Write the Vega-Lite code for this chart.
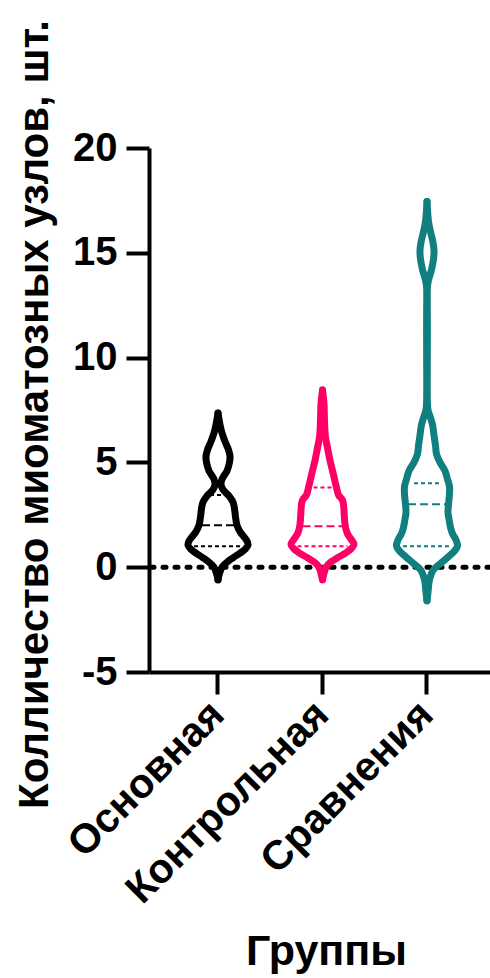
{
  "$schema": "https://vega.github.io/schema/vega-lite/v6.json",
  "width": 341,
  "height": 524,
  "autosize": {"type": "none"},
  "padding": {"left": 149, "top": 148, "right": 0, "bottom": 306},
  "background": "white",
  "config": {"view": {"stroke": null}, "font": "Liberation Sans"},
  "datasets": {
    "outline": [
      {"g":"Основная","s":"L","v":-0.6,"w":0},{"g":"Основная","s":"L","v":-0.3,"w":-1.5},{"g":"Основная","s":"L","v":0.0,"w":-4},{"g":"Основная","s":"L","v":0.2,"w":-8},{"g":"Основная","s":"L","v":0.45,"w":-15},{"g":"Основная","s":"L","v":0.67,"w":-22},{"g":"Основная","s":"L","v":0.85,"w":-27},{"g":"Основная","s":"L","v":1.05,"w":-30},{"g":"Основная","s":"L","v":1.25,"w":-29},{"g":"Основная","s":"L","v":1.45,"w":-26},{"g":"Основная","s":"L","v":1.7,"w":-22},{"g":"Основная","s":"L","v":2.0,"w":-19},{"g":"Основная","s":"L","v":2.4,"w":-17.5},{"g":"Основная","s":"L","v":2.8,"w":-16.5},{"g":"Основная","s":"L","v":3.1,"w":-15},{"g":"Основная","s":"L","v":3.4,"w":-11},{"g":"Основная","s":"L","v":3.7,"w":-5},{"g":"Основная","s":"L","v":3.95,"w":-3},{"g":"Основная","s":"L","v":4.2,"w":-4},{"g":"Основная","s":"L","v":4.6,"w":-9},{"g":"Основная","s":"L","v":5.0,"w":-11.5},{"g":"Основная","s":"L","v":5.3,"w":-12},{"g":"Основная","s":"L","v":5.6,"w":-10.5},{"g":"Основная","s":"L","v":6.0,"w":-7},{"g":"Основная","s":"L","v":6.4,"w":-4},{"g":"Основная","s":"L","v":6.8,"w":-2},{"g":"Основная","s":"L","v":7.35,"w":0},
      {"g":"Основная","s":"R","v":-0.6,"w":0},{"g":"Основная","s":"R","v":-0.3,"w":1.5},{"g":"Основная","s":"R","v":0.0,"w":4},{"g":"Основная","s":"R","v":0.2,"w":8},{"g":"Основная","s":"R","v":0.45,"w":15},{"g":"Основная","s":"R","v":0.67,"w":22},{"g":"Основная","s":"R","v":0.85,"w":27},{"g":"Основная","s":"R","v":1.05,"w":30},{"g":"Основная","s":"R","v":1.25,"w":29},{"g":"Основная","s":"R","v":1.45,"w":26},{"g":"Основная","s":"R","v":1.7,"w":22},{"g":"Основная","s":"R","v":2.0,"w":19},{"g":"Основная","s":"R","v":2.4,"w":17.5},{"g":"Основная","s":"R","v":2.8,"w":16.5},{"g":"Основная","s":"R","v":3.1,"w":15},{"g":"Основная","s":"R","v":3.4,"w":11},{"g":"Основная","s":"R","v":3.7,"w":5},{"g":"Основная","s":"R","v":3.95,"w":3},{"g":"Основная","s":"R","v":4.2,"w":4},{"g":"Основная","s":"R","v":4.6,"w":9},{"g":"Основная","s":"R","v":5.0,"w":11.5},{"g":"Основная","s":"R","v":5.3,"w":12},{"g":"Основная","s":"R","v":5.6,"w":10.5},{"g":"Основная","s":"R","v":6.0,"w":7},{"g":"Основная","s":"R","v":6.4,"w":4},{"g":"Основная","s":"R","v":6.8,"w":2},{"g":"Основная","s":"R","v":7.35,"w":0},
      {"g":"Контрольная","s":"L","v":-0.6,"w":0},{"g":"Контрольная","s":"L","v":-0.3,"w":-1.5},{"g":"Контрольная","s":"L","v":0.0,"w":-3.5},{"g":"Контрольная","s":"L","v":0.2,"w":-7},{"g":"Контрольная","s":"L","v":0.45,"w":-15},{"g":"Контрольная","s":"L","v":0.67,"w":-23},{"g":"Контрольная","s":"L","v":0.9,"w":-29},{"g":"Контрольная","s":"L","v":1.1,"w":-31.5},{"g":"Контрольная","s":"L","v":1.3,"w":-29},{"g":"Контрольная","s":"L","v":1.6,"w":-25},{"g":"Контрольная","s":"L","v":1.9,"w":-23},{"g":"Контрольная","s":"L","v":2.3,"w":-22},{"g":"Контрольная","s":"L","v":2.7,"w":-21.5},{"g":"Контрольная","s":"L","v":3.0,"w":-21},{"g":"Контрольная","s":"L","v":3.2,"w":-20},{"g":"Контрольная","s":"L","v":3.45,"w":-16},{"g":"Контрольная","s":"L","v":3.8,"w":-14},{"g":"Контрольная","s":"L","v":4.2,"w":-12},{"g":"Контрольная","s":"L","v":4.6,"w":-10},{"g":"Контрольная","s":"L","v":5.2,"w":-7},{"g":"Контрольная","s":"L","v":5.7,"w":-5},{"g":"Контрольная","s":"L","v":6.2,"w":-3},{"g":"Контрольная","s":"L","v":7.0,"w":-2},{"g":"Контрольная","s":"L","v":7.8,"w":-1.5},{"g":"Контрольная","s":"L","v":8.45,"w":0},
      {"g":"Контрольная","s":"R","v":-0.6,"w":0},{"g":"Контрольная","s":"R","v":-0.3,"w":1.5},{"g":"Контрольная","s":"R","v":0.0,"w":3.5},{"g":"Контрольная","s":"R","v":0.2,"w":7},{"g":"Контрольная","s":"R","v":0.45,"w":15},{"g":"Контрольная","s":"R","v":0.67,"w":23},{"g":"Контрольная","s":"R","v":0.9,"w":29},{"g":"Контрольная","s":"R","v":1.1,"w":31.5},{"g":"Контрольная","s":"R","v":1.3,"w":29},{"g":"Контрольная","s":"R","v":1.6,"w":25},{"g":"Контрольная","s":"R","v":1.9,"w":23},{"g":"Контрольная","s":"R","v":2.3,"w":22},{"g":"Контрольная","s":"R","v":2.7,"w":21.5},{"g":"Контрольная","s":"R","v":3.0,"w":21},{"g":"Контрольная","s":"R","v":3.2,"w":20},{"g":"Контрольная","s":"R","v":3.45,"w":16},{"g":"Контрольная","s":"R","v":3.8,"w":14},{"g":"Контрольная","s":"R","v":4.2,"w":12},{"g":"Контрольная","s":"R","v":4.6,"w":10},{"g":"Контрольная","s":"R","v":5.2,"w":7},{"g":"Контрольная","s":"R","v":5.7,"w":5},{"g":"Контрольная","s":"R","v":6.2,"w":3},{"g":"Контрольная","s":"R","v":7.0,"w":2},{"g":"Контрольная","s":"R","v":7.8,"w":1.5},{"g":"Контрольная","s":"R","v":8.45,"w":0},
      {"g":"Сравнения","s":"L","v":-1.6,"w":0},{"g":"Сравнения","s":"L","v":-1.2,"w":-1},{"g":"Сравнения","s":"L","v":-0.6,"w":-2.5},{"g":"Сравнения","s":"L","v":-0.15,"w":-6},{"g":"Сравнения","s":"L","v":0.2,"w":-14},{"g":"Сравнения","s":"L","v":0.5,"w":-21.5},{"g":"Сравнения","s":"L","v":0.75,"w":-27},{"g":"Сравнения","s":"L","v":1.0,"w":-30.5},{"g":"Сравнения","s":"L","v":1.3,"w":-29},{"g":"Сравнения","s":"L","v":1.6,"w":-25.5},{"g":"Сравнения","s":"L","v":1.9,"w":-23.5},{"g":"Сравнения","s":"L","v":2.3,"w":-22},{"g":"Сравнения","s":"L","v":2.6,"w":-21},{"g":"Сравнения","s":"L","v":3.0,"w":-21.5},{"g":"Сравнения","s":"L","v":3.5,"w":-22.5},{"g":"Сравнения","s":"L","v":3.85,"w":-22.5},{"g":"Сравнения","s":"L","v":4.2,"w":-20.5},{"g":"Сравнения","s":"L","v":4.6,"w":-18},{"g":"Сравнения","s":"L","v":5.0,"w":-13},{"g":"Сравнения","s":"L","v":5.4,"w":-9.5},{"g":"Сравнения","s":"L","v":5.8,"w":-8.5},{"g":"Сравнения","s":"L","v":6.3,"w":-7},{"g":"Сравнения","s":"L","v":6.8,"w":-5.5},{"g":"Сравнения","s":"L","v":7.2,"w":-3},{"g":"Сравнения","s":"L","v":7.5,"w":-1},{"g":"Сравнения","s":"L","v":8.0,"w":-0.3},{"g":"Сравнения","s":"L","v":13.3,"w":-0.3},{"g":"Сравнения","s":"L","v":13.7,"w":-1.5},{"g":"Сравнения","s":"L","v":14.2,"w":-4.5},{"g":"Сравнения","s":"L","v":14.7,"w":-6.5},{"g":"Сравнения","s":"L","v":15.1,"w":-7},{"g":"Сравнения","s":"L","v":15.5,"w":-6},{"g":"Сравнения","s":"L","v":16.0,"w":-3.5},{"g":"Сравнения","s":"L","v":16.5,"w":-1.5},{"g":"Сравнения","s":"L","v":17.45,"w":0},
      {"g":"Сравнения","s":"R","v":-1.6,"w":0},{"g":"Сравнения","s":"R","v":-1.2,"w":1},{"g":"Сравнения","s":"R","v":-0.6,"w":2.5},{"g":"Сравнения","s":"R","v":-0.15,"w":6},{"g":"Сравнения","s":"R","v":0.2,"w":14},{"g":"Сравнения","s":"R","v":0.5,"w":21.5},{"g":"Сравнения","s":"R","v":0.75,"w":27},{"g":"Сравнения","s":"R","v":1.0,"w":30.5},{"g":"Сравнения","s":"R","v":1.3,"w":29},{"g":"Сравнения","s":"R","v":1.6,"w":25.5},{"g":"Сравнения","s":"R","v":1.9,"w":23.5},{"g":"Сравнения","s":"R","v":2.3,"w":22},{"g":"Сравнения","s":"R","v":2.6,"w":21},{"g":"Сравнения","s":"R","v":3.0,"w":21.5},{"g":"Сравнения","s":"R","v":3.5,"w":22.5},{"g":"Сравнения","s":"R","v":3.85,"w":22.5},{"g":"Сравнения","s":"R","v":4.2,"w":20.5},{"g":"Сравнения","s":"R","v":4.6,"w":18},{"g":"Сравнения","s":"R","v":5.0,"w":13},{"g":"Сравнения","s":"R","v":5.4,"w":9.5},{"g":"Сравнения","s":"R","v":5.8,"w":8.5},{"g":"Сравнения","s":"R","v":6.3,"w":7},{"g":"Сравнения","s":"R","v":6.8,"w":5.5},{"g":"Сравнения","s":"R","v":7.2,"w":3},{"g":"Сравнения","s":"R","v":7.5,"w":1},{"g":"Сравнения","s":"R","v":8.0,"w":0.3},{"g":"Сравнения","s":"R","v":13.3,"w":0.3},{"g":"Сравнения","s":"R","v":13.7,"w":1.5},{"g":"Сравнения","s":"R","v":14.2,"w":4.5},{"g":"Сравнения","s":"R","v":14.7,"w":6.5},{"g":"Сравнения","s":"R","v":15.1,"w":7},{"g":"Сравнения","s":"R","v":15.5,"w":6},{"g":"Сравнения","s":"R","v":16.0,"w":3.5},{"g":"Сравнения","s":"R","v":16.5,"w":1.5},{"g":"Сравнения","s":"R","v":17.45,"w":0}
    ],
    "quart": [
      {"g":"Основная","q":"Q1","k":"quartile","v":1.0,"w":-24},{"g":"Основная","q":"Q1","k":"quartile","v":1.0,"w":24},
      {"g":"Основная","q":"Me","k":"median","v":2.0,"w":-16},{"g":"Основная","q":"Me","k":"median","v":2.0,"w":16},
      {"g":"Основная","q":"Q3","k":"quartile","v":3.45,"w":-8},{"g":"Основная","q":"Q3","k":"quartile","v":3.45,"w":8},
      {"g":"Контрольная","q":"Q1","k":"quartile","v":1.0,"w":-25},{"g":"Контрольная","q":"Q1","k":"quartile","v":1.0,"w":25},
      {"g":"Контрольная","q":"Me","k":"median","v":1.95,"w":-20},{"g":"Контрольная","q":"Me","k":"median","v":1.95,"w":20},
      {"g":"Контрольная","q":"Q3","k":"quartile","v":3.8,"w":-9},{"g":"Контрольная","q":"Q3","k":"quartile","v":3.8,"w":9},
      {"g":"Сравнения","q":"Q1","k":"quartile","v":1.0,"w":-24},{"g":"Сравнения","q":"Q1","k":"quartile","v":1.0,"w":24},
      {"g":"Сравнения","q":"Me","k":"median","v":3.0,"w":-19},{"g":"Сравнения","q":"Me","k":"median","v":3.0,"w":19},
      {"g":"Сравнения","q":"Q3","k":"quartile","v":4.0,"w":-13},{"g":"Сравнения","q":"Q3","k":"quartile","v":4.0,"w":13}
    ]
  },
  "layer": [
    {
      "data": {"values": [{"v": 0}]},
      "mark": {"type": "rule", "strokeDash": [3, 9], "strokeCap": "round", "strokeWidth": 5, "color": "black"},
      "encoding": {"y": {"field": "v", "type": "quantitative"}}
    },
    {
      "data": {"name": "outline"},
      "mark": {"type": "line", "interpolate": "catmull-rom", "strokeWidth": 7, "strokeCap": "round", "strokeJoin": "round"},
      "encoding": {
        "x": {
          "field": "g", "type": "nominal", "sort": ["Основная", "Контрольная", "Сравнения"],
          "scale": {"type": "band", "paddingInner": 0, "paddingOuter": 0.131579, "align": 0.609},
          "axis": {
            "title": "Группы", "titleFontSize": 43, "titleFontWeight": "bold", "titleColor": "black",
            "titleX": 177, "titleY": 292, "titleBaseline": "alphabetic", "titleAlign": "center",
            "labelAngle": -45, "labelAlign": "right", "labelBaseline": "middle", "labelPadding": 14,
            "labelFontSize": 41, "labelFontWeight": "bold", "labelColor": "black", "labelLimit": 500,
            "labelOverlap": false, "labelFlush": false,
            "tickSize": 22, "tickWidth": 4, "tickColor": "black", "domainWidth": 4, "domainColor": "black", "grid": false
          }
        },
        "xOffset": {"field": "w", "type": "quantitative", "scale": {"domain": [-52.25, 52.25]}},
        "y": {
          "field": "v", "type": "quantitative",
          "scale": {"domain": [-5, 20], "nice": false, "zero": false},
          "axis": {
            "title": "Колличество миоматозных узлов, шт.", "titleFontSize": 42, "titleFontWeight": "bold", "titleColor": "black",
            "titleAngle": -90, "titleX": -102, "titleY": 266, "titleAlign": "center", "titleBaseline": "alphabetic",
            "values": [-5, 0, 5, 10, 15, 20], "labelExpr": "'' + datum.value",
            "labelFontSize": 40, "labelFontWeight": "bold", "labelColor": "black", "labelPadding": 9,
            "tickSize": 23, "tickWidth": 4, "tickColor": "black", "domainWidth": 4, "domainColor": "black", "grid": false
          }
        },
        "color": {"field": "g", "type": "nominal", "scale": {"domain": ["Основная", "Контрольная", "Сравнения"], "range": ["#000000", "#FF0066", "#117F7F"]}, "legend": null},
        "detail": {"field": "s", "type": "nominal"},
        "order": {"field": "v", "type": "quantitative"}
      }
    },
    {
      "data": {"name": "quart"},
      "mark": {"type": "line", "strokeWidth": 2},
      "encoding": {
        "x": {"field": "g", "type": "nominal", "sort": ["Основная", "Контрольная", "Сравнения"]},
        "xOffset": {"field": "w", "type": "quantitative", "scale": {"domain": [-52.25, 52.25]}},
        "y": {"field": "v", "type": "quantitative"},
        "color": {"field": "g", "type": "nominal", "legend": null},
        "detail": {"field": "q", "type": "nominal"},
        "strokeDash": {"field": "k", "type": "nominal", "scale": {"domain": ["median", "quartile"], "range": [[8, 4], [4, 3]]}, "legend": null}
      }
    }
  ]
}
